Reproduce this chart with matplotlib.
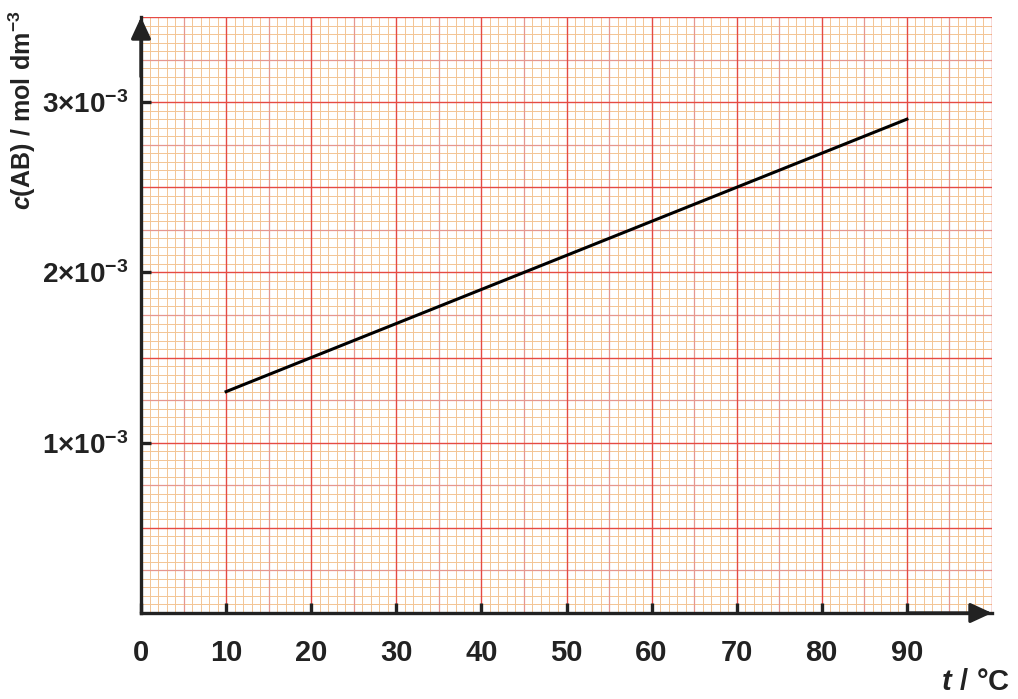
import numpy as np
import matplotlib.pyplot as plt

# data
temp = [10, 20, 30, 40, 50, 60, 70, 80, 90]
conc = [1.3e-3, 1.5e-3, 1.7e-3, 1.9e-3, 2.1e-3, 2.3e-3, 2.5e-3, 2.7e-3, 2.9e-3]

xticks = [0, 10, 20, 30, 40, 50, 60, 70, 80, 90]
xtick_labels = [str(t) for t in xticks]
yticks = [1e-3, 2e-3, 3e-3]
ytick_labels = [r'$1{\times}10^{-3}$', r'$2{\times}10^{-3}$', r'$3{\times}10^{-3}$']

xmax = 100
ymax = 3.5e-3

plt.rcParams['font.family'] = ['Liberation Sans', 'DejaVu Sans']
plt.rcParams['font.weight'] = 'bold'
plt.rcParams['mathtext.fontset'] = 'custom'
plt.rcParams['mathtext.rm'] = 'Liberation Sans:bold'
plt.rcParams['mathtext.it'] = 'Liberation Sans:bold:italic'
plt.rcParams['mathtext.bf'] = 'Liberation Sans:bold'

fig = plt.figure(figsize=(10.18, 6.99), dpi=100)
ax = fig.add_axes([141/1018, 1 - 613/699, 851/1018, 596/699])
ax.set_xlim(0, xmax)
ax.set_ylim(0, ymax)

# graph paper
minor_c = '#f3c594'
mid_c = '#e6978f'
major_c = '#e54a44'
xs = np.arange(0, xmax + 0.5, 1)
ys = np.arange(0, ymax + 1e-6, 0.05e-3)
for i, x in enumerate(xs):
    if i % 10 == 0:
        ax.axvline(x, color=major_c, lw=1.0, zorder=0.3)
    elif i % 5 == 0:
        ax.axvline(x, color=mid_c, lw=0.9, zorder=0.2)
    else:
        ax.axvline(x, color=minor_c, lw=0.7, zorder=0.1)
for j, y in enumerate(ys):
    if j % 10 == 0:
        ax.axhline(y, color=major_c, lw=1.0, zorder=0.3)
    elif j % 5 == 0:
        ax.axhline(y, color=mid_c, lw=0.9, zorder=0.2)
    else:
        ax.axhline(y, color=minor_c, lw=0.7, zorder=0.1)

ax.plot(temp, conc, color='black', lw=2.2, zorder=5)

# axes
for s in ['top', 'right']:
    ax.spines[s].set_visible(False)
for s in ['left', 'bottom']:
    ax.spines[s].set_linewidth(2.4)
    ax.spines[s].set_color('#222222')
    ax.spines[s].set_zorder(6)
ax.xaxis.set_zorder(6)
ax.yaxis.set_zorder(6)

ax.set_xticks(xticks)
ax.set_xticklabels(xtick_labels, fontsize=21, fontweight='bold', color='#222222')
ax.set_yticks(yticks)
ax.set_yticklabels(ytick_labels, fontsize=20, color='#222222')
ax.tick_params(axis='both', direction='in', length=7, width=2.4, color='#222222')
ax.tick_params(axis='x', pad=19)
ax.tick_params(axis='y', pad=9)

arrow = dict(arrowstyle='-|>,head_length=0.65,head_width=0.3', mutation_scale=20,
             color='#222222', lw=2.4, shrinkA=0, shrinkB=0)
ax.annotate('', xy=(0, 1), xytext=(0, 0.9), xycoords='axes fraction', arrowprops=arrow, zorder=7)
ax.annotate('', xy=(1, 0), xytext=(0.9, 0), xycoords='axes fraction', arrowprops=arrow, zorder=7)

ax.text(-0.14, 0.844, r'$c\mathrm{(AB)\ /\ mol\ dm}^{-3}$', rotation=90,
        ha='center', va='center', fontsize=18, color='#222222', transform=ax.transAxes)
ax.text(0.980, -0.116, r'$t\mathrm{\ /\ °C}$', ha='center', va='center',
        fontsize=21, color='#222222', transform=ax.transAxes)

fig.savefig('out.png', dpi=100)
